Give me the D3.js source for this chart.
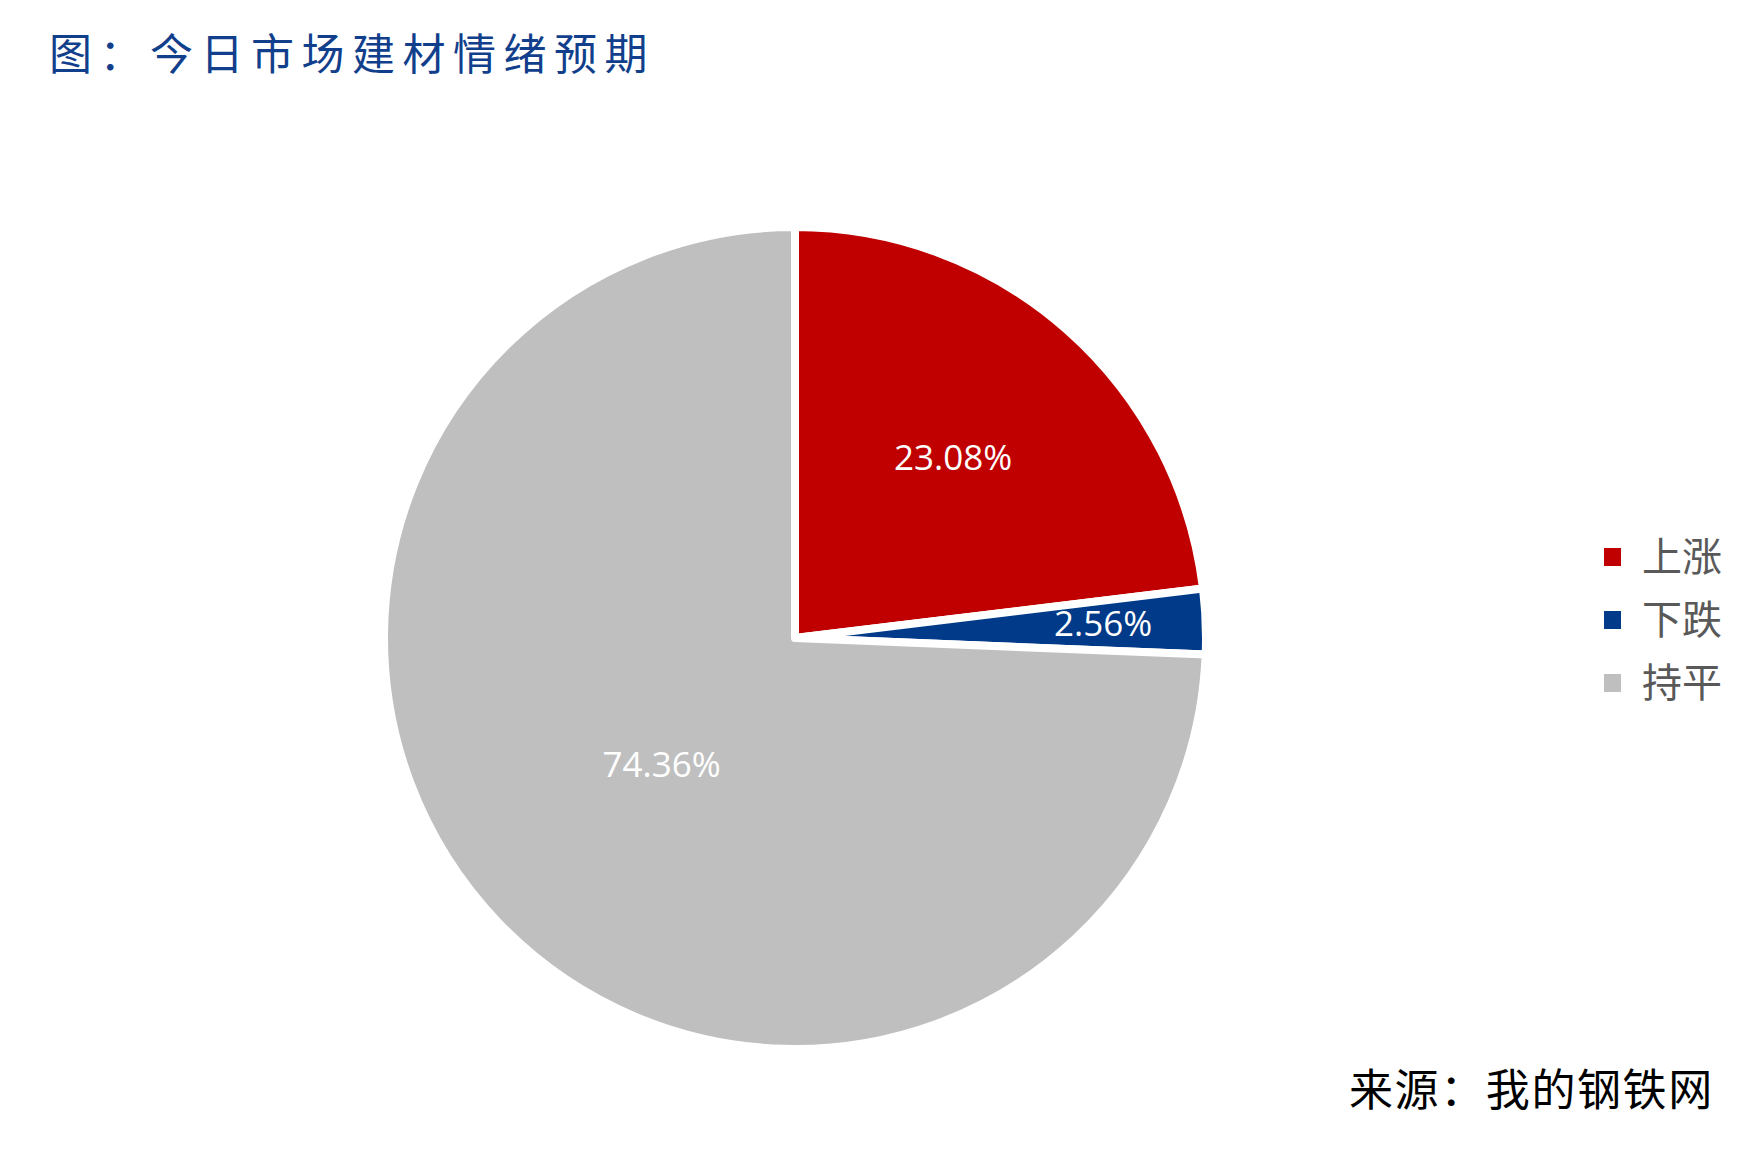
<!DOCTYPE html>
<html>
<head>
<meta charset="utf-8">
<script src="https://cdn.jsdelivr.net/npm/d3@7"></script>
<style>
  html, body { margin: 0; padding: 0; background: #ffffff; }
</style>
</head>
<body>
<div id="chart"></div>
<script>
"use strict";

// data
var categories = ["上涨", "下跌", "持平"];
var shares = [23.08, 2.56, 74.36];
var colors = ["#C00000", "#003A88", "#BFBFBF"];
var titleText = "图：今日市场建材情绪预期";
var sourceText = "来源：我的钢铁网";

var width = 1764, height = 1169;
var cx = 795, cy = 638, radius = 411;

// how far out each label sits (fraction of radius)
var labelPos = [0.58, 0.75, 0.45];

var svg = d3.select("#chart")
    .append("svg")
    .attr("width", width)
    .attr("height", height);

svg.append("rect")
    .attr("width", width)
    .attr("height", height)
    .attr("fill", "#ffffff");

// title
svg.append("text")
    .attr("x", 49)
    .attr("y", 70)
    .attr("fill", "#123F8C")
    .style("font-family", "'Noto Sans CJK SC', sans-serif")
    .style("font-size", "43px")
    .style("letter-spacing", "7.5px")
    .text(titleText);

// pie
var data = categories.map((c, i) => ({ name: c, value: shares[i], color: colors[i], idx: i }));

var pie = d3.pie()
    .value(d => d.value)
    .sort(null);

var arc = d3.arc()
    .innerRadius(0)
    .outerRadius(radius);

var arcs = pie(data);

var g = svg.append("g")
    .attr("transform", `translate(${cx},${cy})`);

g.selectAll("path")
    .data(arcs)
    .join("path")
    .attr("d", arc)
    .attr("fill", d => d.data.color)
    .attr("stroke", "#ffffff")
    .attr("stroke-width", 8)
    .attr("stroke-linejoin", "round");

// labels
g.selectAll("text.pct")
    .data(arcs)
    .join("text")
    .attr("class", "pct")
    .attr("transform", d => {
        var r = radius * labelPos[d.data.idx];
        var a = (d.startAngle + d.endAngle) / 2;
        return `translate(${Math.sin(a) * r},${-Math.cos(a) * r})`;
    })
    .attr("text-anchor", "middle")
    .attr("dy", "0.3em")
    .attr("fill", "#ffffff")
    .style("font-family", "'Open Sans', sans-serif")
    .style("font-size", "35px")
    .text(d => d.data.value.toFixed(2) + "%");

// legend
var legend = svg.append("g")
    .attr("transform", "translate(1604,557)");

var rows = legend.selectAll("g")
    .data(data)
    .join("g")
    .attr("transform", (d, i) => `translate(0,${i * 63})`);

rows.append("rect")
    .attr("x", 0)
    .attr("y", -9)
    .attr("width", 17)
    .attr("height", 18)
    .attr("fill", d => d.color);

rows.append("text")
    .attr("x", 38)
    .attr("y", 14)
    .attr("fill", "#595959")
    .style("font-family", "'Noto Sans CJK SC', sans-serif")
    .style("font-size", "40px")
    .text(d => d.name);

// source
svg.append("text")
    .attr("x", 1349)
    .attr("y", 1106)
    .attr("fill", "#000000")
    .style("font-family", "'Noto Sans CJK SC', sans-serif")
    .style("font-size", "44px")
    .style("letter-spacing", "1.6px")
    .text(sourceText);
</script>
</body>
</html>
